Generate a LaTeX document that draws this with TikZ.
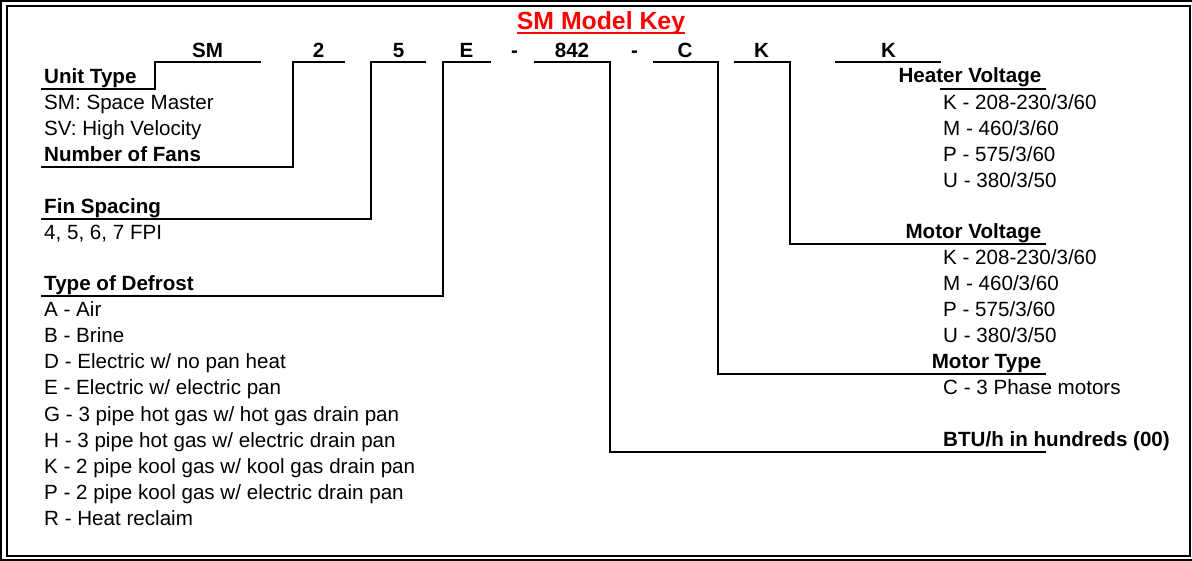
\documentclass[tikz,border=0pt]{standalone}
\usepackage{fontspec}
\setmainfont{Liberation Sans}
\usepackage{xcolor}
\usetikzlibrary{calc}

\newcommand{\keyfont}{\fontsize{20.6}{26}\selectfont}

\begin{document}
\begin{tikzpicture}[x=1pt, y=-1pt,
  code/.style={font=\keyfont\bfseries, anchor=base, inner sep=0pt},
  head/.style={font=\keyfont\bfseries, inner sep=0pt},
  item/.style={font=\keyfont, anchor=base west, inner sep=0pt},
  keyline/.style={line width=2pt}
]
  \useasboundingbox (0,0) rectangle (1192,561);
  % double frame
  \draw[line width=2pt] (1,1.3) rectangle (1194,559.5);
  \draw[line width=2pt] (7,6) rectangle (1189.5,556);

  \node[font=\fontsize{24.8}{30}\selectfont\bfseries, text=red, anchor=base, inner sep=0pt] (title) at (601,29.8) {SM Model Key};
  \draw[red, line width=2.4pt] ($(title.base west)+(0,3.2)$) -- ($(title.base east)+(0,3.2)$);

  % model code
  \foreach \t/\x/\n in {SM/207.5/cSM, 2/318.5/c2, 5/398.5/c5, E/466.5/cE, -/514.5/d1,
                        842/572/c842, -/634.5/d2, C/685/cC, K/761.5/cK, K/888.5/cH}
    \node[code] (\n) at (\x,57.7) {\t};

  % left labels
  \foreach \t/\y/\n in {Unit Type/83.5/unit, Number of Fans/161.5/fans,
                        Fin Spacing/213.3/fin, Type of Defrost/291/defrost} {
    \node[head, anchor=base west] (\n) at (44,\y) {\t};
    \coordinate (\n-u) at (41,\y+5.5);
  }
  \foreach \t [count=\i from 0] in {SM: Space Master, SV: High Velocity}
    \node[item] (ut-\i) at (44,110+26*\i) {\t};
  \node[item] (fpi) at (44,239.5) {4, 5, 6, 7 FPI};
  \foreach \t [count=\i from 0] in {A - Air, B - Brine, D - Electric w/ no pan heat,
      E - Electric w/ electric pan, G - 3 pipe hot gas w/ hot gas drain pan,
      H - 3 pipe hot gas w/ electric drain pan, K - 2 pipe kool gas w/ kool gas drain pan,
      P - 2 pipe kool gas w/ electric drain pan, R - Heat reclaim}
    \node[item] (df-\i) at (44,317+26*\i) {\t};

  % right labels
  \foreach \t/\y/\n in {Heater Voltage/83/heater, Motor Voltage/238.5/mvolt,
                        Motor Type/368.3/mtype} {
    \node[head, anchor=base east] (\n) at (1041.5,\y) {\t};
    \coordinate (\n-u) at (1045.7,\y+5.8);
  }
  \node[head, anchor=base west] (btu) at (943,446) {BTU/h in hundreds (00)};
  \coordinate (btu-u) at (1045.7,452);
  \foreach \t [count=\i from 0] in {K - 208-230/3/60, M - 460/3/60, P - 575/3/60, U - 380/3/50} {
    \node[item] (hv-\i) at (943,110+26*\i) {\t};
    \node[item] (mv-\i) at (943,265+26*\i) {\t};
  }
  \node[item] (phase) at (943,394.5) {C - 3 Phase motors};

  % connectors
  \foreach \c/\w/\l in {cSM/53/unit, c2/26/fans, c5/27.5/fin, cE/24/defrost}
    \draw[keyline] ($(\c.base)+(\w,4.8)$) -- ++(-2*\w,0) |- (\l-u);
  \foreach \c/\w/\l in {c842/38/btu, cC/32.5/mtype, cK/28/mvolt}
    \draw[keyline] ($(\c.base)+(-\w,4.8)$) -- ++(2*\w,0) |- (\l-u);
  \draw[keyline] ($(cH.base)+(-53.5,4.8)$) -- ++(106,0);
  \draw[keyline] (heater-u) -- ++(-105.7,0);
\end{tikzpicture}
\end{document}
